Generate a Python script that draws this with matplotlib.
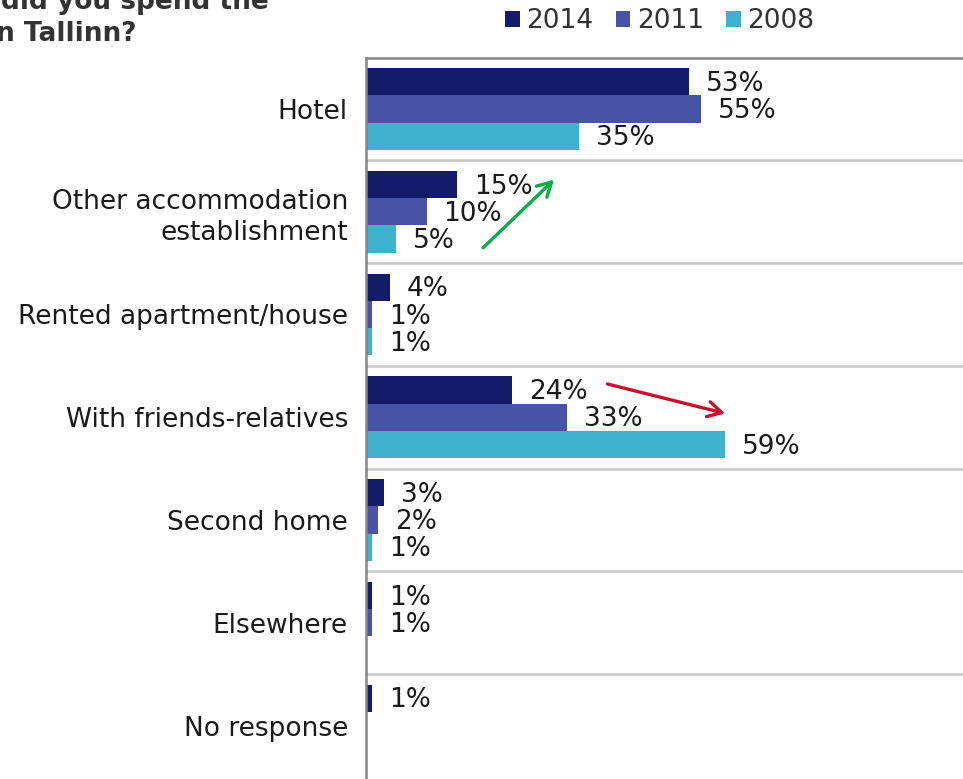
import numpy as np
import matplotlib
matplotlib.use("Agg")
import matplotlib.pyplot as plt

categories = ["Hotel", "Other accommodation\nestablishment", "Rented apartment/house",
              "With friends-relatives", "Second home", "Elsewhere", "No response"]
years = ["2014", "2011", "2008"]
values_2014 = [53, 15, 4, 24, 3, 1, 1]
values_2011 = [55, 10, 1, 33, 2, 1, None]
values_2008 = [35, 5, 1, 59, 1, None, None]
colors = ["#141B6A", "#4853A6", "#3FB1CD"]

W, H = 963, 779
fig = plt.figure(figsize=(W / 100, H / 100), dpi=100)
ax_left, ax_top, ax_bottom = 366 / W, 1 - 57.5 / H, 0.0
ax = fig.add_axes([ax_left, ax_bottom, 1 - ax_left, ax_top - ax_bottom])

y = np.arange(len(categories))
bar_h = 0.265
offsets = [-0.265, 0.0, 0.265]
series = [values_2014, values_2011, values_2008]

for vals, off, col, yr in zip(series, offsets, colors, years):
    for i, v in enumerate(vals):
        if v is None:
            continue
        ax.barh(y[i] + off, v, height=bar_h, color=col, edgecolor="none",
                label=yr if i == 0 else None)
        ax.annotate(f"{v}%", xy=(v, y[i] + off), xytext=(12, -1.5),
                    textcoords="offset points", ha="left", va="center",
                    fontsize=19, color="#1a1a1a")

ax.set_xlim(0, 98)
ax.set_ylim(len(categories) - 0.5 + 0.02, -0.5)

# separators between groups
for k in range(len(categories) - 1):
    ax.axhline(k + 0.5, color="#C8C8C8", lw=1.8, zorder=0)

for s in ["right", "bottom"]:
    ax.spines[s].set_visible(False)
ax.spines["left"].set_color("#858585")
ax.spines["left"].set_linewidth(1.8)
ax.spines["top"].set_color("#858585")
ax.spines["top"].set_linewidth(1.8)

ax.set_xticks([])
ax.set_yticks(y)
ax.set_yticklabels(categories, fontsize=19, color="#1a1a1a", ha="right",
                   multialignment="right", linespacing=1.25)
ax.tick_params(axis="y", length=0, pad=13)

# trend arrows
ax.annotate("", xy=(31.2, 0.67), xytext=(18.9, 1.37),
            arrowprops=dict(arrowstyle="->,head_length=1.0,head_width=0.55",
                            color="#0DAA4B", lw=2.4))
ax.annotate("", xy=(59.4, 2.97), xytext=(39.2, 2.67),
            arrowprops=dict(arrowstyle="->,head_length=1.0,head_width=0.55",
                            color="#C8102E", lw=2.4))

handles, labels = ax.get_legend_handles_labels()
fig.legend(handles, labels, loc="center left", bbox_to_anchor=(492 / W, 1 - 21 / H),
           ncol=3, frameon=False, fontsize=19, handlelength=0.55, handleheight=0.55,
           handletextpad=0.25, columnspacing=0.85, labelcolor="#333333",
           borderpad=0.0)

fig.text(1 / W, 1 - 2 / H, "did you spend the", fontsize=19, fontweight="bold",
         color="#333333", ha="left", va="center")
fig.text(-4 / W, 1 - 34 / H, "n Tallinn?", fontsize=19, fontweight="bold",
         color="#333333", ha="left", va="center")

fig.savefig("out.png", dpi=100)
